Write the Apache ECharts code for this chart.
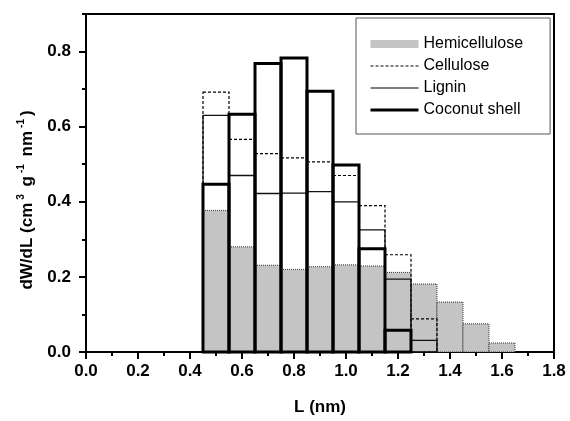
<!DOCTYPE html>
<html>
<head>
<meta charset="utf-8">
<script src="https://cdn.jsdelivr.net/npm/echarts@6/dist/echarts.min.js"></script>
<style>
  html, body { margin: 0; padding: 0; background: #fff; }
  #chart { width: 570px; height: 421px; }
</style>
</head>
<body>
<div id="chart"></div>
<script>
// pore width bins (centre of each 0.1 nm bin)
const binCentres = [0.5, 0.6, 0.7, 0.8, 0.9, 1.0, 1.1, 1.2, 1.3, 1.4, 1.5, 1.6];
const binWidth = 0.1;
const hemicellulose = [0.377, 0.280, 0.231, 0.220, 0.227, 0.232, 0.229, 0.212, 0.181, 0.133, 0.075, 0.024];
const cellulose = [0.692, 0.566, 0.528, 0.517, 0.506, 0.470, 0.390, 0.259, 0.088, 0, 0, 0];
const lignin = [0.630, 0.470, 0.422, 0.423, 0.427, 0.400, 0.325, 0.194, 0.031, 0, 0, 0];
const coconutShell = [0.447, 0.633, 0.768, 0.783, 0.694, 0.498, 0.275, 0.058, 0, 0, 0, 0];
const legendNames = ['Hemicellulose', 'Cellulose', 'Lignin', 'Coconut shell'];

const FONT = 'Arial, "Liberation Sans", sans-serif';

const toData = (vals) => binCentres.map((x, i) => [x, vals[i]]);

// one histogram rectangle per bin, drawn through the axes
const barRenderer = (style) => (params, api) => {
  const x = api.value(0);
  const v = api.value(1);
  if (!v) return null;
  const p0 = api.coord([x - binWidth / 2, v]);
  const p1 = api.coord([x + binWidth / 2, 0]);
  return {
    type: 'rect',
    shape: { x: p0[0], y: p0[1], width: p1[0] - p0[0], height: p1[1] - p0[1] },
    style: style
  };
};

const noSymbol = { opacity: 0, borderWidth: 0 };

const chart = echarts.init(document.getElementById('chart'));
chart.setOption({
  animation: false,
  backgroundColor: '#fff',
  grid: {
    left: 86, right: 16, top: 14, bottom: 64,
    show: true, borderColor: '#000', borderWidth: 2, backgroundColor: 'transparent'
  },
  legend: {
    left: 356,
    top: 18,
    orient: 'vertical',
    backgroundColor: '#fff',
    borderColor: '#555',
    borderWidth: 1,
    padding: [18, 27, 16, 13],
    itemWidth: 48,
    itemHeight: 8,
    itemGap: 6,
    textStyle: { fontSize: 16, fontFamily: FONT, color: '#000' },
    data: [
      { name: legendNames[0], icon: 'rect', itemStyle: { color: '#c4c4c4', borderWidth: 0 } },
      { name: legendNames[1], icon: 'inherit', itemStyle: noSymbol, lineStyle: { color: '#000', width: 1, type: [3, 2] } },
      { name: legendNames[2], icon: 'inherit', itemStyle: noSymbol, lineStyle: { color: '#000', width: 1.2, type: 'solid' } },
      { name: legendNames[3], icon: 'inherit', itemStyle: noSymbol, lineStyle: { color: '#000', width: 3, type: 'solid' } }
    ]
  },
  xAxis: {
    type: 'value',
    min: 0, max: 1.8, interval: 0.2,
    name: 'L (nm)',
    nameLocation: 'middle',
    nameGap: 47,
    nameTextStyle: { fontSize: 17, fontWeight: 'bold', fontFamily: FONT, color: '#000' },
    axisLine: { show: true, lineStyle: { color: '#000', width: 2 } },
    axisTick: { show: true, length: 7, lineStyle: { color: '#000', width: 2 } },
    minorTick: { show: true, splitNumber: 2, length: 4, lineStyle: { color: '#000', width: 2 } },
    splitLine: { show: false },
    axisLabel: {
      margin: 11, fontSize: 17, fontWeight: 'bold', fontFamily: FONT, color: '#000',
      formatter: (v) => v.toFixed(1)
    }
  },
  yAxis: [
    {
      type: 'value',
      min: 0, max: 0.9, interval: 0.2,
      name: '{a|dW/dL (cm}{s|3}{a| g}{s|-1}{a| nm}{s|-1}{a|)}',
      nameLocation: 'middle',
      nameGap: 48,
      nameTextStyle: {
        padding: [0, 34, 0, 0],
        rich: {
          a: { fontSize: 17, fontWeight: 'bold', fontFamily: FONT, color: '#000', lineHeight: 22 },
          s: { fontSize: 10, fontWeight: 'bold', fontFamily: FONT, color: '#000', lineHeight: 12, verticalAlign: 'top', padding: [0, 3, 0, 3] }
        }
      },
      axisLine: { show: true, lineStyle: { color: '#000', width: 2 } },
      axisTick: { show: true, length: 7, lineStyle: { color: '#000', width: 2 } },
      splitLine: { show: false },
      axisLabel: {
        showMaxLabel: false,
        margin: 15, fontSize: 17, fontWeight: 'bold', fontFamily: FONT, color: '#000',
        formatter: (v) => v.toFixed(1)
      }
    },
    {
      // minor ticks every 0.1
      type: 'value',
      position: 'left',
      min: 0, max: 0.9, interval: 0.1,
      axisLine: { show: false },
      axisTick: { show: true, length: 4, lineStyle: { color: '#000', width: 2 } },
      axisLabel: { show: false },
      splitLine: { show: false }
    }
  ],
  series: [
    // legend-only line entries
    { name: legendNames[1], type: 'line', data: [], symbol: 'none', lineStyle: { color: '#000', width: 1, type: [3, 2] } },
    { name: legendNames[2], type: 'line', data: [], symbol: 'none', lineStyle: { color: '#000', width: 1.2 } },
    { name: legendNames[3], type: 'line', data: [], symbol: 'none', lineStyle: { color: '#000', width: 3 } },
    {
      name: legendNames[0], type: 'custom', itemStyle: { color: '#c4c4c4' },
      data: toData(hemicellulose), encode: { x: 0, y: 1 },
      renderItem: barRenderer({ fill: '#c4c4c4', stroke: '#333', lineWidth: 1, lineDash: [1, 1] })
    },
    {
      name: legendNames[1], type: 'custom',
      data: toData(cellulose), encode: { x: 0, y: 1 },
      renderItem: barRenderer({ fill: null, stroke: '#000', lineWidth: 1.2, lineDash: [3, 2] })
    },
    {
      name: legendNames[2], type: 'custom',
      data: toData(lignin), encode: { x: 0, y: 1 },
      renderItem: barRenderer({ fill: null, stroke: '#111', lineWidth: 1.3 })
    },
    {
      name: legendNames[3], type: 'custom',
      data: toData(coconutShell), encode: { x: 0, y: 1 },
      renderItem: barRenderer({ fill: null, stroke: '#000', lineWidth: 3 })
    }
  ]
});
</script>
</body>
</html>
